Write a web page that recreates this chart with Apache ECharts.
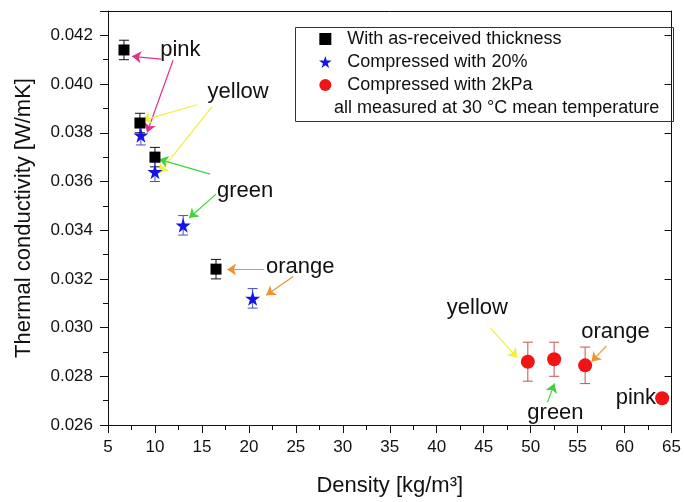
<!DOCTYPE html>
<html><head><meta charset="utf-8">
<script src="https://cdn.jsdelivr.net/npm/echarts@6/dist/echarts.min.js"></script>
<style>html,body{margin:0;padding:0;background:#fff}#c{width:684px;height:502px}</style>
</head><body><div id="c"></div>
<script>
// ---- data ----
var asReceived = [[6.7, 0.0414, 0.0004], [8.4, 0.0384, 0.0004], [10.0, 0.0370, 0.0004], [16.5, 0.0324, 0.0004]];
var compressed20 = [[8.5, 0.0379, 0.0004], [10.0, 0.0364, 0.0004], [13.0, 0.0342, 0.0004], [20.4, 0.0312, 0.0004]];
var compressed2kPa = [[49.7, 0.0286, 0.0008], [52.5, 0.0287, 0.0007], [55.8, 0.02845, 0.00075], [64.0, 0.0271, 0.0]];
var seriesNames = ['With as-received thickness', 'Compressed with 20%', 'Compressed with 2kPa'];
var noteText = 'all measured at 30 °C mean temperature';
var xTicks = {min: 5, max: 65, interval: 5};
var yTicks = {min: 0.026, max: 0.043, interval: 0.002};
// annotation labels [x, y, text]
var labels = [
  [12.7, 0.04139, 'pink'], [18.85, 0.03968, 'yellow'], [19.6, 0.0356, 'green'], [25.46, 0.03247, 'orange'],
  [44.33, 0.0308, 'yellow'], [52.64, 0.02648, 'green'], [59.03, 0.02982, 'orange'], [61.2, 0.02713, 'pink']
];
// arrows [x1, y1, x2, y2, colorKey]
var arrows = [
  [10.65, 0.04102, 7.56, 0.04114, 'pink'], [11.93, 0.04098, 9.16, 0.03801, 'pink'],
  [14.49, 0.03915, 8.62, 0.0385, 'yellow'], [16.08, 0.03907, 10.44, 0.03634, 'yellow'],
  [15.87, 0.0363, 10.44, 0.03691, 'green'], [16.51, 0.03548, 13.63, 0.0345, 'green'],
  [21.63, 0.03239, 17.68, 0.03239, 'orange'], [24.72, 0.0321, 21.84, 0.03133, 'orange'],
  [45.71, 0.02998, 48.59, 0.02876, 'yellow'], [51.79, 0.02693, 52.53, 0.0277, 'green'],
  [58.07, 0.02925, 56.48, 0.0286, 'orange']
];
// ---- styles ----
var arrowColors = {pink: '#e0308c', yellow: '#f2ee3c', green: '#3fd43f', orange: '#f0922e'};
var FONT = 'Arial, "Liberation Sans", sans-serif';
var STAR = 'path://M50,0 L61,35 L98,35 L68,57 L79,91 L50,70 L21,91 L32,57 L2,35 L39,35 Z';
var SQUARE = 'path://M0,0 L10,0 L10,10 L0,10 Z';
var CIRCLE = 'path://M10,5 A5,5 0 1,1 0,5 A5,5 0 1,1 10,5 Z';

function errData(arr) { return arr.map(function (d) { return [d[0], d[1] - d[2], d[1] + d[2]]; }); }
function errSeries(arr, color) {
  return {
    type: 'custom', silent: true, z: 2,
    data: errData(arr),
    encode: {x: 0, y: [1, 2]},
    renderItem: function (params, api) {
      if (api.value(2) - api.value(1) <= 0) return null;
      var lo = api.coord([api.value(0), api.value(1)]);
      var hi = api.coord([api.value(0), api.value(2)]);
      var w = 5;
      var st = {stroke: color, lineWidth: 1};
      return {type: 'group', children: [
        {type: 'line', shape: {x1: lo[0], y1: lo[1], x2: hi[0], y2: hi[1]}, style: st},
        {type: 'line', shape: {x1: lo[0] - w, y1: lo[1], x2: lo[0] + w, y2: lo[1]}, style: st},
        {type: 'line', shape: {x1: hi[0] - w, y1: hi[1], x2: hi[0] + w, y2: hi[1]}, style: st}
      ]};
    }
  };
}

var chart = echarts.init(document.getElementById('c'), null, {renderer: 'canvas'});
var axisLabel = {fontSize: 17, color: '#111', fontFamily: FONT};
var option = {
  animation: false,
  backgroundColor: '#fff',
  grid: {left: 108, right: 12, top: 11, bottom: 74},
  legend: {
    data: [
      {name: seriesNames[0], icon: SQUARE},
      {name: seriesNames[1], icon: STAR},
      {name: seriesNames[2], icon: CIRCLE}
    ],
    orient: 'vertical', left: 314, top: 25, itemWidth: 34, itemHeight: 12, itemGap: 5,
    symbolKeepAspect: true,
    textStyle: {fontSize: 18, color: '#111', fontFamily: FONT}, selectedMode: false
  },
  graphic: [
    {type: 'rect', left: 293, top: 25, shape: {width: 378, height: 94}, style: {fill: 'none', stroke: '#333', lineWidth: 1}, z: 100},
    {type: 'text', left: 334, top: 99, style: {text: noteText, fontSize: 18, fill: '#111', fontFamily: FONT}, z: 100}
  ],
  xAxis: [{
    type: 'value', min: xTicks.min, max: xTicks.max, interval: xTicks.interval,
    name: 'Density [kg/m³]', nameLocation: 'middle', nameGap: 50,
    nameTextStyle: {fontSize: 22, color: '#111', fontFamily: FONT},
    axisLine: {show: true, onZero: false, lineStyle: {color: '#111', width: 1}},
    axisTick: {show: true, inside: false, length: 8, lineStyle: {color: '#111'}},
    minorTick: {show: true, splitNumber: 2, length: 5, lineStyle: {color: '#111'}},
    axisLabel: Object.assign({margin: 14}, axisLabel),
    splitLine: {show: false}
  }, {
    type: 'value', position: 'top', min: xTicks.min, max: xTicks.max, interval: xTicks.interval,
    axisLine: {show: true, onZero: false, lineStyle: {color: '#111', width: 1}},
    axisTick: {show: false}, axisLabel: {show: false}, splitLine: {show: false}
  }],
  yAxis: [{
    type: 'value', min: yTicks.min, max: yTicks.max, interval: yTicks.interval,
    name: 'Thermal conductivity [W/mK]', nameLocation: 'middle', nameGap: 73,
    nameTextStyle: {fontSize: 22, color: '#111', fontFamily: FONT},
    axisLine: {show: true, onZero: false, lineStyle: {color: '#111', width: 1}},
    axisTick: {show: true, inside: false, length: 8, lineStyle: {color: '#111'}},
    minorTick: {show: true, splitNumber: 2, length: 5, lineStyle: {color: '#111'}},
    axisLabel: Object.assign({margin: 15, showMaxLabel: false, formatter: function (v) { return v.toFixed(3); }}, axisLabel),
    splitLine: {show: false}
  }, {
    type: 'value', position: 'right', min: yTicks.min, max: yTicks.max, interval: yTicks.interval,
    axisLine: {show: true, onZero: false, lineStyle: {color: '#111', width: 1}},
    axisTick: {show: true, inside: true, length: 7, lineStyle: {color: '#111'}},
    axisLabel: {show: false}, splitLine: {show: false}
  }],
  series: [
    errSeries(asReceived, '#111'),
    errSeries(compressed20, '#4a4ad0'),
    errSeries(compressed2kPa, '#c85050'),
    {name: seriesNames[0], type: 'scatter', z: 5, symbol: 'rect', symbolSize: 11, itemStyle: {color: '#000', opacity: 1},
      data: asReceived.map(function (d) { return [d[0], d[1]]; })},
    {name: seriesNames[1], type: 'scatter', z: 5, symbol: STAR, symbolSize: 15, itemStyle: {color: '#1414e6', opacity: 1},
      data: compressed20.map(function (d) { return [d[0], d[1]]; })},
    {name: seriesNames[2], type: 'scatter', z: 5, symbol: 'circle', symbolSize: 14, itemStyle: {color: '#f01414', opacity: 1},
      data: compressed2kPa.map(function (d) { return [d[0], d[1]]; })},
    {name: 'labels', type: 'scatter', z: 6, symbolSize: 0, silent: true, itemStyle: {opacity: 1},
      data: labels.map(function (d) { return {value: [d[0], d[1]], name: d[2]}; }),
      label: {show: true, position: 'inside', formatter: function (p) { return p.name; },
        fontSize: 22, color: '#111', fontFamily: FONT}},
    {name: 'arrows', type: 'line', data: [], silent: true, z: 4,
      markLine: {
        silent: true, animation: false, symbol: ['none', 'arrow'], symbolSize: 9,
        label: {show: false},
        data: arrows.map(function (a) {
          return [{coord: [a[0], a[1]], lineStyle: {color: arrowColors[a[4]], width: 1.2, type: 'solid'}, itemStyle: {color: arrowColors[a[4]]}},
                  {coord: [a[2], a[3]]}];
        })
      }}
  ]
};
chart.setOption(option);
</script></body></html>
